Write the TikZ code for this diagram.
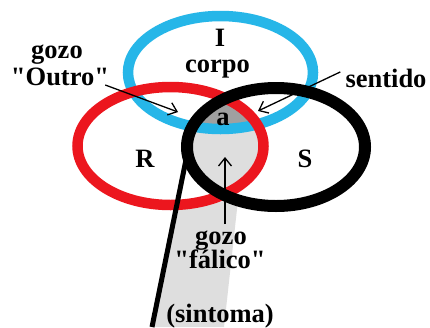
\documentclass[tikz,border=0pt]{standalone}
\usepackage{fontspec}
\setmainfont{Liberation Serif}[Ligatures=TeXOff]
\usetikzlibrary{arrows.meta}
\definecolor{ringblue}{RGB}{38,182,232}
\definecolor{ringred}{RGB}{236,22,30}
\definecolor{lgrey}{RGB}{222,222,222}
\definecolor{dgrey}{RGB}{160,160,160}
\begin{document}
\begin{tikzpicture}[x=1pt,y=-1pt,
  lbl/.style={font=\fontsize{26.5}{26.5}\selectfont\bfseries, inner sep=0pt, anchor=base},
  pointer/.style={draw=black, line width=1.3pt, -{Straight Barb[length=8pt,width=13pt,line width=1.3pt]}},
  ringI/.style={draw=ringblue, line width=10.5pt},
  ringR/.style={draw=ringred, line width=10.5pt},
  ringS/.style={draw=black, line width=12pt}]
\useasboundingbox[fill=white] (0,0) rectangle (430,327);
% centers
\coordinate (cI) at (220.5,72.5);
\coordinate (cR) at (170.5,146);
\coordinate (cS) at (276,147);
% light grey band
\fill[lgrey] (177.5,205) -- (152,327) -- (224,327) -- (238,200) -- cycle;
% lens R and S
\begin{scope}
  \clip (cR) ellipse [x radius=93pt, y radius=59pt];
  \fill[lgrey] (cS) ellipse [x radius=89pt, y radius=59pt];
  \clip (cS) ellipse [x radius=89pt, y radius=59pt];
  \fill[dgrey] (cI) ellipse [x radius=92.5pt, y radius=56.5pt];
\end{scope}
% rings
\draw[ringI] (cI) ellipse [x radius=92.5pt, y radius=56.5pt];
\draw[ringR] (cR) ellipse [x radius=93pt, y radius=59pt];
\draw[ringS] (cS) ellipse [x radius=89pt, y radius=59pt];
% symptom line
\coordinate (ltop) at (189,145);
\coordinate (lbot) at (152,327);
\draw[line width=5pt] (ltop) -- (lbot);
% labels
\node[lbl] (gozoO) at (57,58) {gozo};
\node[lbl] (outro) at (60,85) {"Outro"};
\node[lbl] (I) at (220,46) {I};
\node[lbl] (corpo) at (217.5,72) {corpo};
\node[lbl] (sentido) at (386,87) {sentido};
\node[lbl] (R) at (145,167) {R};
\node[lbl] (S) at (305,167) {S};
\node[lbl] (a) at (223,125) {a};
\node[lbl] (gozoF) at (221,244) {gozo};
\node[lbl] (falico) at (220,268) {"fálico"};
\node[lbl] (sintoma) at (220,322) {(sintoma)};
% arrows
\coordinate (tO) at (178,112);
\coordinate (tS) at (258,111);
\coordinate (tF) at (225,157);
\draw[pointer] (outro.base east) ++(-4,0) -- (tO);
\draw[pointer] (sentido.west) ++(-5,-6) -- (tS);
\draw[pointer] (gozoF.north) ++(4,-6) -- (tF);
\end{tikzpicture}
\end{document}
